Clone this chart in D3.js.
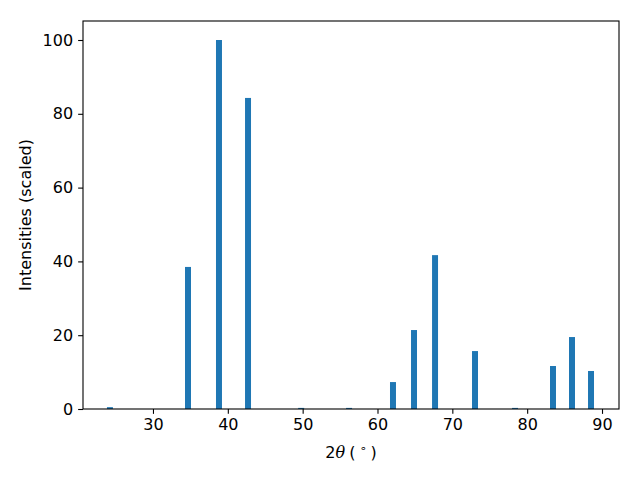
<!DOCTYPE html>
<html><head><meta charset="utf-8">
<script src="https://cdn.jsdelivr.net/npm/d3@7"></script>
<style>body{margin:0;background:#fff}svg{display:block}text{font-family:"DejaVu Sans",sans-serif;white-space:pre}</style>
</head><body><svg id="c" width="640" height="480"></svg>
<script>
const positions = [24.25, 34.68, 38.82, 42.7, 49.8, 56.2, 62.07, 64.88, 67.69, 73.03, 78.38, 83.45, 85.99, 88.53];
const intensities = [0.5, 38.5, 100, 84.3, 0.3, 0.3, 7.3, 21.4, 41.7, 15.7, 0.3, 11.65, 19.5, 10.3];
const xTicks = [30, 40, 50, 60, 70, 80, 90];
const yTicks = [0, 20, 40, 60, 80, 100];
const barWidth = 0.8;

const svg = d3.select("#c");
const m = {l: 83, r: 619, t: 21, b: 409};
const x = d3.scaleLinear().domain([20.65, 92.27]).range([m.l, m.r]);
const y = d3.scaleLinear().domain([0, 105.15]).range([m.b, m.t]);
const fs = 16;

svg.append("g").selectAll("rect").data(positions).enter().append("rect")
  .attr("x", (d) => x(d - barWidth / 2))
  .attr("width", (d) => x(d + barWidth / 2) - x(d - barWidth / 2))
  .attr("y", (d, i) => y(intensities[i]))
  .attr("height", (d, i) => y(0) - y(intensities[i]))
  .attr("fill", "#1f77b4");

const gx = svg.append("g").attr("transform", `translate(0,${m.b})`)
  .call(d3.axisBottom(x).tickValues(xTicks).tickSize(4.86).tickPadding(5).tickFormat(d3.format("d")));
const gy = svg.append("g").attr("transform", `translate(${m.l},0)`)
  .call(d3.axisLeft(y).tickValues(yTicks).tickSize(4.86).tickPadding(5).tickFormat(d3.format("d")));
[gx, gy].forEach(g => {
  g.select(".domain").remove();
  g.selectAll("line").attr("stroke", "#000").attr("stroke-width", 1.1);
  g.selectAll("text").attr("font-size", fs).attr("fill", "#000").attr("font-family", "DejaVu Sans");
});

svg.append("rect").attr("x", m.l).attr("y", m.t).attr("width", m.r - m.l).attr("height", m.b - m.t)
  .attr("fill", "none").attr("stroke", "#000").attr("stroke-width", 1.1);

const xl = svg.append("text").attr("x", (m.l + m.r) / 2).attr("y", 458).attr("text-anchor", "middle").attr("font-size", fs);
xl.append("tspan").text("2");
xl.append("tspan").attr("font-style", "italic").attr("font-family", "DejaVu Serif").text("θ");
xl.append("tspan").attr("dx", 4).text("(");
xl.append("tspan").attr("font-size", fs * 0.7).attr("dx", 4).attr("dy", -6).text("∘");
xl.append("tspan").attr("dy", 6).attr("dx", 4).text(")");

svg.append("text").attr("transform", `translate(31,${(m.t + m.b) / 2}) rotate(-90)`)
  .attr("text-anchor", "middle").attr("font-size", fs).text("Intensities (scaled)");
</script></body></html>
